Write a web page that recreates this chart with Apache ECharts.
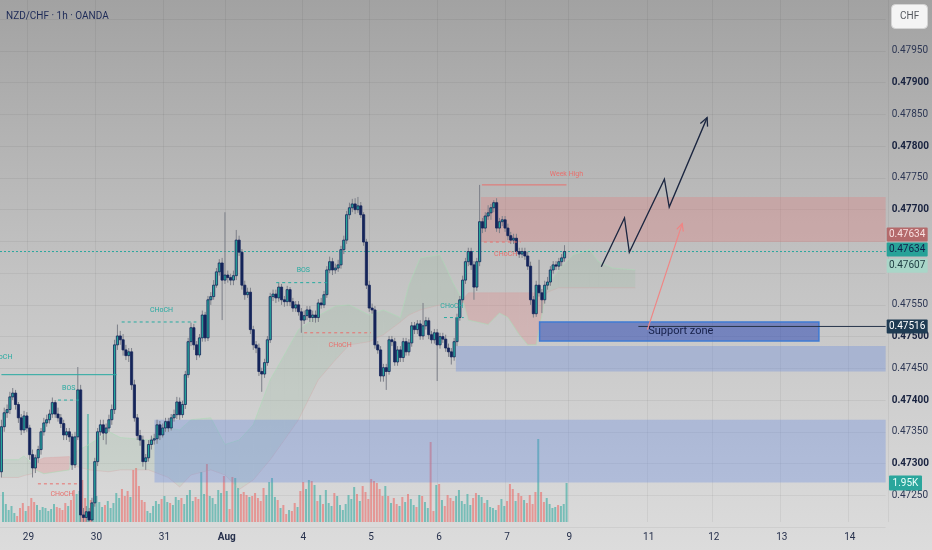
<!DOCTYPE html>
<html><head><meta charset="utf-8">
<script src="https://cdn.jsdelivr.net/npm/echarts@6/dist/echarts.min.js"></script>
<style>
html,body{margin:0;padding:0;width:932px;height:550px;overflow:hidden;}
#c{width:932px;height:550px;background:linear-gradient(180deg,#a2a2a2 0%,#b3b3b3 25%,#c3c3c3 50%,#d0d0d0 75%,#dcdcdc 100%);}
</style></head><body><div id="c"></div>
<script>
// ---------------- DATA (prices in 1e-5 units, i.e. 47634 = 0.47634) ----------------
const SCALE = 100000;
// hourly candles: [open, close, low, high]
const candles = [
[47287,47358,47278,47369],[47358,47380,47350,47388],[47380,47385,47372,47393],[47385,47405,47378,47413],[47405,47411,47400,47419],
[47411,47393,47385,47416],[47393,47372,47364,47397],[47372,47353,47345,47378],[47353,47375,47348,47383],[47375,47356,47350,47381],
[47356,47314,47306,47361],[47314,47293,47278,47322],[47293,47309,47285,47314],[47309,47322,47301,47328],[47322,47350,47314,47356],
[47350,47364,47344,47372],[47364,47369,47358,47377],[47369,47378,47363,47385],[47378,47396,47372,47404],[47396,47378,47372,47400],
[47378,47372,47366,47388],[47372,47363,47356,47378],[47363,47345,47337,47369],[47345,47350,47337,47356],[47350,47342,47334,47356],
[47342,47298,47290,47347],[47298,47342,47293,47350],[47342,47416,47337,47452],[47416,47219,47208,47424],[47219,47215,47208,47230],
[47215,47224,47208,47233],[47224,47211,47208,47230],[47211,47238,47208,47246],[47238,47303,47232,47309],[47303,47350,47296,47356],
[47350,47361,47344,47369],[47361,47348,47337,47369],[47348,47356,47330,47363],[47356,47369,47350,47377],[47369,47385,47361,47393],
[47385,47487,47378,47495],[47487,47501,47479,47519],[47501,47495,47487,47509],[47495,47479,47470,47504],[47479,47470,47463,47487],
[47470,47476,47460,47482],[47476,47424,47416,47482],[47424,47372,47366,47432],[47372,47344,47337,47378],[47344,47337,47328,47353],
[47337,47303,47295,47344],[47303,47309,47290,47315],[47309,47330,47303,47337],[47330,47337,47322,47344],[47337,47339,47330,47347],
[47339,47361,47331,47369],[47361,47345,47337,47367],[47345,47356,47341,47363],[47356,47366,47350,47372],[47366,47356,47350,47372],
[47356,47372,47352,47378],[47372,47377,47366,47385],[47377,47397,47370,47405],[47397,47377,47369,47404],[47377,47393,47372,47399],
[47393,47440,47386,47446],[47440,47492,47435,47498],[47492,47514,47485,47522],[47514,47487,47479,47520],[47487,47471,47463,47493],
[47471,47498,47467,47504],[47498,47534,47492,47541],[47534,47498,47492,47539],[47498,47558,47493,47564],[47558,47563,47550,47570],
[47563,47581,47558,47589],[47581,47602,47577,47608],[47602,47616,47596,47622],[47616,47589,47526,47624],[47589,47597,47583,47696],
[47597,47593,47585,47604],[47593,47589,47581,47599],[47589,47596,47581,47604],[47596,47652,47589,47668],[47652,47633,47627,47659],
[47633,47581,47574,47638],[47581,47566,47558,47588],[47566,47570,47561,47577],[47570,47511,47504,47577],[47511,47487,47479,47517],
[47487,47482,47474,47493],[47482,47445,47438,47489],[47445,47441,47413,47451],[47441,47459,47435,47465],[47459,47495,47454,47501],
[47495,47563,47490,47569],[47563,47567,47556,47574],[47567,47561,47553,47574],[47561,47578,47555,47585],[47578,47558,47550,47583],
[47558,47555,47547,47564],[47555,47574,47548,47580],[47574,47555,47548,47578],[47555,47545,47539,47561],[47545,47550,47539,47556],
[47550,47539,47533,47556],[47539,47526,47506,47545],[47526,47533,47520,47541],[47533,47542,47526,47548],[47542,47530,47523,47548],
[47530,47534,47523,47541],[47534,47530,47522,47541],[47530,47553,47523,47559],[47553,47550,47544,47561],[47550,47566,47545,47572],
[47566,47605,47561,47611],[47605,47618,47600,47626],[47618,47605,47597,47624],[47605,47608,47599,47615],[47608,47613,47602,47621],
[47613,47637,47607,47643],[47637,47652,47630,47659],[47652,47692,47646,47698],[47692,47703,47685,47711],[47703,47709,47696,47717],
[47709,47700,47693,47718],[47700,47706,47695,47720],[47706,47692,47687,47712],[47692,47649,47643,47696],[47649,47581,47575,47654],
[47581,47545,47539,47588],[47545,47542,47536,47552],[47542,47487,47481,47548],[47487,47479,47473,47493],[47479,47438,47429,47485],
[47438,47451,47429,47457],[47451,47445,47416,47457],[47445,47495,47440,47501],[47495,47492,47485,47501],[47492,47460,47454,47498],
[47460,47479,47454,47485],[47479,47467,47460,47485],[47467,47492,47460,47498],[47492,47476,47470,47498],[47476,47490,47470,47496],
[47490,47517,47484,47523],[47517,47511,47504,47523],[47511,47520,47504,47526],[47520,47501,47495,47526],[47501,47517,47495,47553],
[47517,47525,47511,47531],[47525,47503,47496,47530],[47503,47495,47489,47509],[47495,47506,47489,47512],[47506,47487,47430,47512],
[47487,47500,47481,47506],[47500,47496,47490,47506],[47496,47482,47476,47503],[47482,47476,47468,47489],[47476,47468,47456,47482],
[47468,47492,47462,47498],[47492,47530,47485,47536],[47530,47558,47525,47564],[47558,47589,47553,47596],[47589,47618,47583,47624],
[47618,47634,47611,47640],[47634,47613,47605,47640],[47613,47578,47558,47619],[47578,47618,47572,47624],[47618,47681,47611,47739],
[47681,47671,47663,47687],[47671,47690,47665,47696],[47690,47695,47684,47707],[47695,47703,47684,47709],[47703,47711,47696,47715],
[47711,47671,47665,47718],[47671,47681,47663,47687],[47681,47684,47674,47690],[47684,47671,47665,47690],[47671,47659,47652,47678],
[47659,47652,47646,47665],[47652,47655,47646,47662],[47655,47634,47627,47662],[47634,47630,47624,47640],[47630,47634,47624,47640],
[47634,47627,47621,47640],[47627,47611,47605,47634],[47611,47558,47550,47618],[47558,47536,47530,47564],[47536,47581,47531,47588],
[47581,47569,47563,47621],[47569,47558,47537,47575],[47558,47581,47552,47588],[47581,47586,47574,47594],[47586,47605,47580,47611],
[47605,47613,47599,47619],[47613,47611,47605,47619],[47611,47618,47605,47624],[47618,47624,47611,47630],[47624,47634,47618,47644]
];
// volume per candle, thousands
const volumesK = [
1.50,0.90,0.60,0.80,0.45,0.30,0.70,0.95,0.55,0.80,
1.20,1.00,0.85,0.60,0.75,0.70,0.55,0.65,0.90,0.75,
0.70,0.60,0.95,0.80,1.10,1.60,1.40,1.55,2.10,1.20,
5.40,1.10,0.90,1.30,1.00,0.75,0.85,1.05,0.70,0.95,
1.45,1.20,1.65,1.30,1.55,1.25,2.60,2.70,1.80,1.10,
1.00,0.55,0.45,0.80,1.05,0.90,1.15,1.30,1.00,0.95,
0.85,1.25,1.10,1.20,0.90,1.35,1.60,1.05,1.25,1.15,
2.50,1.40,2.90,1.30,1.20,0.90,1.60,1.45,2.30,1.55,
0.65,2.25,2.20,1.70,1.40,1.50,1.35,1.25,1.30,1.45,
1.20,1.05,1.70,1.35,2.00,2.20,1.25,1.10,0.70,0.85,
0.40,0.60,0.55,0.95,0.75,1.55,2.00,1.65,2.10,2.05,
1.85,1.05,1.35,0.90,1.60,0.95,0.80,1.45,1.30,0.85,
0.60,0.90,1.35,1.15,1.75,1.40,1.05,1.80,1.50,1.15,
2.15,2.05,1.95,1.65,1.30,1.80,1.30,0.95,1.20,0.90,
0.80,1.25,1.00,1.40,1.15,0.85,0.75,1.35,1.30,1.00,
0.70,4.00,0.55,1.85,1.90,1.10,0.80,1.35,1.20,1.05,
1.30,1.60,1.05,0.90,1.40,0.85,1.20,1.45,1.35,1.25,
0.95,1.10,0.75,0.70,0.60,0.85,1.15,0.80,1.05,1.90,
1.65,1.05,1.45,1.30,1.10,0.95,1.35,0.90,1.50,4.15,
1.50,1.00,1.20,0.90,0.70,0.75,0.85,0.80,0.90,1.95
];
// time axis: bar index of each day label
const dayTickIndex  = [9,33,57,79,106,130,154,178,200,228,251,275,299];
const dayTickLabels = ['29','30','31','Aug','4','5','6','7','9','11','12','13','14'];
// Ichimoku cloud (bar index, span A, span B)
const cloudIdx = [0,6,8,11,12,15,24,26,31,38,42,52,59,63,67,74,79,84,89,95,100,105,112,118,123,130,135,141,144,148,155,160,163,165,172,176,179,183,186,189,191,193,197,202,208,211,216,224];
const spanA = [47306,47306,47312,47298,47290,47284,47290,47318,47330,47350,47341,47337,47356,47353,47369,47372,47330,47337,47361,47432,47471,47511,47533,47548,47550,47534,47542,47530,47581,47624,47629,47581,47558,47526,47519,47537,47530,47503,47487,47487,47534,47581,47605,47629,47637,47618,47608,47605];
const spanB = [47278,47278,47281,47284,47303,47309,47311,47296,47290,47287,47290,47290,47278,47263,47282,47290,47282,47259,47274,47306,47337,47369,47432,47463,47487,47492,47503,47523,47534,47542,47550,47550,47558,47569,47569,47569,47569,47569,47569,47569,47558,47570,47577,47577,47577,47577,47577,47577];
// zones: [startBar, endBar, topPrice, bottomPrice]
const supplyZone      = [169.4, 312.5, 47720, 47649];
const demandZoneUpper = [160.6, 312.5, 47485, 47445];
const demandZoneLower = [54.1, 312.5, 47369, 47270];
const supportZone     = [190.2, 288.9, 47523, 47493];
const supportLevel    = [225.1, 312.5, 47516];
// market-structure lines: [startBar, endBar, price]
const structLines  = [[0,40.7,47440],[20,27.4,47400],[12.9,27.7,47268],[42.5,68.9,47523],[97.1,115.1,47585],[107,130.6,47506],[156.4,163.4,47530],[170.5,183.5,47649],[169.8,199.7,47739]];
const structSide   = ['bull','bull','bear','bull','bull','bear','bull','bear','bear'];
const structText   = ['CHoCH','BOS','CHoCH','CHoCH','BOS','CHoCH','CHoCH','CHoCH','Week High'];
const structTextAt = [[-0.2,47467],[23.8,47418],[21.4,47251],[56.6,47542],[106.7,47604],[119.7,47487],[159.2,47548],[178.2,47630],[199.7,47756]];
// projected paths
const bullPathBar   = [212.0, 220.2, 221.9, 234.3, 236.0, 249.4];
const bullPathPrice = [47610, 47687, 47633, 47748, 47704, 47845];
const retestBar     = [228.3, 240.6];
const retestPrice   = [47511, 47678];
const supportLabel  = {text:'Support zone', bar:228.6, price:47509};
// right-axis price tags
const tagValues = [47634, 47634, 47607, 47516];
const lastVolumeK = 1.95;
const lastBar = 199;

// ---------------- STYLE / LAYOUT ----------------
const N_SLOTS = 313;
const FONT = 'Roboto, "Noto Sans", sans-serif';
const TEAL = '#25a79d', NAVY = '#15255a';
const P = v => v / SCALE;
const categories = Array.from({length:N_SLOTS}, () => '');
dayTickIndex.forEach((k, j) => { categories[k] = dayTickLabels[j]; });

const ZONE_LIST = [demandZoneLower, demandZoneUpper, supplyZone, supportZone];
const ZONE_FILL = ['rgba(90,130,225,0.30)','rgba(90,130,225,0.30)','rgba(225,120,120,0.30)','rgba(41,70,180,0.53)'];
const TAG_BG = ['#b46a6b','#27a298','#a9d6c8','#1f3b53'];
const TAG_FG = ['#f8e0e0','#10204a','#1d3b40','#ffffff'];
const TAG_SHIFT = [-17,-2,-3,0];
const SOLID_STRUCT = new Set([0, 8]);

function arrowHead(a, b, L, w) {
  const ang = Math.atan2(a[1]-b[1], a[0]-b[0]);
  return [[a[0]-L*Math.cos(ang-w), a[1]-L*Math.sin(ang-w)], a, [a[0]-L*Math.cos(ang+w), a[1]-L*Math.sin(ang+w)]];
}

const chart = echarts.init(document.getElementById('c'), null, {renderer:'canvas'});
const option = {
  backgroundColor: 'transparent',
  animation: false,
  graphic: [
    {type:'text', left:6, top:11, style:{text:'NZD/CHF · 1h · OANDA', font:'10px '+FONT, fill:'#1d2a57'}},
    {type:'rect', left:891, top:4, shape:{width:36, height:24, r:4}, style:{fill:'#f4f4f4', stroke:'#d4d4d4', lineWidth:1}},
    {type:'text', left:900, top:11, style:{text:'CHF', font:'10px '+FONT, fill:'#55595f'}}
  ],
  grid: [
    {left:0, right:44, top:19.25, bottom:23},
    {left:0, right:44, top:0, bottom:28}
  ],
  xAxis: [
    {type:'value', gridIndex:0, min:-0.5, max:N_SLOTS-0.5, show:false},
    {type:'category', gridIndex:1, data:categories, boundaryGap:true,
     axisLine:{show:false}, axisTick:{show:false},
     axisLabel:{interval:0, margin:10, fontSize:10, color:'#26304c', fontFamily:FONT,
       formatter: v => v === 'Aug' ? '{b|Aug}' : v,
       rich:{b:{fontWeight:'bold', fontSize:10, color:'#26304c', fontFamily:FONT}}},
     splitLine:{show:true, interval:(i, v) => v !== '', lineStyle:{color:'rgba(0,0,0,0.05)', width:1}}}
  ],
  yAxis: [
    {type:'value', gridIndex:0, position:'right', min:0.472, max:0.480, interval:0.0005,
     axisLine:{show:false}, axisTick:{show:false},
     splitLine:{show:true, lineStyle:{color:'rgba(0,0,0,0.05)', width:1}},
     axisLabel:{margin:6, showMinLabel:false, showMaxLabel:false,
       formatter: v => {
         const k = Math.round(v*2000);
         if ([944, 952, 953, 960].includes(k)) return '';
         const t = (k/2000).toFixed(5);
         return k % 2 === 0 ? '{b|'+t+'}' : '{n|'+t+'}';
       },
       rich:{b:{fontWeight:'bold', fontSize:10, color:'#18223f', fontFamily:FONT},
             n:{fontSize:10, color:'#2d3754', fontFamily:FONT}}}},
    {type:'value', gridIndex:1, min:0, max:26.1, show:false}
  ],
  series: [
    // volume
    {type:'bar', xAxisIndex:1, yAxisIndex:1, barWidth:2, z:1, silent:true,
     data: volumesK.map((v, i) => ({value:v, itemStyle:{color: candles[i][1] >= candles[i][0] ? 'rgba(38,166,154,0.55)' : 'rgba(239,83,80,0.5)'}}))},
    // ichimoku cloud fill
    {type:'custom', xAxisIndex:0, yAxisIndex:0, z:2, silent:true,
     data: cloudIdx.slice(0, -1).map((_, k) => [k]),
     renderItem: (params, api) => {
       const k = api.value(0);
       const a0 = api.coord([cloudIdx[k], P(spanA[k])]), a1 = api.coord([cloudIdx[k+1], P(spanA[k+1])]);
       const b0 = api.coord([cloudIdx[k], P(spanB[k])]), b1 = api.coord([cloudIdx[k+1], P(spanB[k+1])]);
       const green = (spanA[k] + spanA[k+1]) >= (spanB[k] + spanB[k+1]);
       return {type:'polygon', shape:{points:[a0, a1, b1, b0]},
               style:{fill: green ? 'rgba(100,180,115,0.10)' : 'rgba(235,110,110,0.22)'}};
     }},
    {type:'line', xAxisIndex:0, yAxisIndex:0, z:2, silent:true, symbol:'none',
     data: cloudIdx.map((x, k) => [x, P(spanA[k])]), lineStyle:{color:'rgba(170,220,180,0.55)', width:1}},
    {type:'line', xAxisIndex:0, yAxisIndex:0, z:2, silent:true, symbol:'none',
     data: cloudIdx.map((x, k) => [x, P(spanB[k])]), lineStyle:{color:'rgba(215,160,160,0.3)', width:1}},
    // zones
    {type:'custom', xAxisIndex:0, yAxisIndex:0, z:3, silent:true,
     data: ZONE_LIST.map((_, k) => [k]),
     renderItem: (params, api) => {
       const k = api.value(0), z = ZONE_LIST[k];
       const p1 = api.coord([z[0], P(z[2])]), p2 = api.coord([z[1], P(z[3])]);
       return {type:'rect', shape:{x:p1[0], y:p1[1], width:p2[0]-p1[0], height:p2[1]-p1[1]},
               style:{fill:ZONE_FILL[k], stroke: k === 3 ? '#3f7bd4' : null, lineWidth:1.5}};
     }},
    // levels: last price (dotted) and support level
    {type:'custom', xAxisIndex:0, yAxisIndex:0, z:4, silent:true,
     data: [[0],[1]],
     renderItem: (params, api) => {
       const k = api.value(0);
       if (k === 0) {
         const a = api.coord([-0.5, P(tagValues[1])]), b = api.coord([N_SLOTS-0.5, P(tagValues[1])]);
         return {type:'line', shape:{x1:a[0], y1:a[1], x2:b[0], y2:b[1]}, style:{stroke:'#2aa79e', lineWidth:1, lineDash:[2,2]}};
       }
       const a = api.coord([supportLevel[0], P(supportLevel[2])]), b = api.coord([supportLevel[1], P(supportLevel[2])]);
       return {type:'line', shape:{x1:a[0], y1:a[1], x2:b[0], y2:b[1]}, style:{stroke:'#26344a', lineWidth:1}};
     }},
    // candles
    {type:'custom', xAxisIndex:0, yAxisIndex:0, z:5, silent:true,
     data: candles.map((r, i) => [i, P(r[0]), P(r[1]), P(r[2]), P(r[3])]),
     renderItem: (params, api) => {
       const i = api.value(0), o = api.value(1), c = api.value(2), l = api.value(3), h = api.value(4);
       const po = api.coord([i, o]), pc = api.coord([i, c]), pl = api.coord([i, l]), ph = api.coord([i, h]);
       const x = po[0], up = c >= o, bw = 2.2;
       const top = Math.min(po[1], pc[1]), bh = Math.max(Math.abs(po[1]-pc[1]), 1);
       return {type:'group', children:[
         {type:'line', shape:{x1:x, y1:ph[1], x2:x, y2:pl[1]}, style:{stroke:'#7c7f88', lineWidth:1}},
         {type:'rect', shape:{x:x-bw/2, y:top, width:bw, height:bh},
          style:{fill: up ? TEAL : NAVY, stroke:NAVY, lineWidth:0.8}}
       ]};
     }},
    // structure lines and labels
    {type:'custom', xAxisIndex:0, yAxisIndex:0, z:6, silent:true,
     data: structLines.map((_, k) => [k]),
     renderItem: (params, api) => {
       const k = api.value(0), s = structLines[k];
       const col = structSide[k] === 'bull' ? '#27aaa1' : '#e8706d';
       const a = api.coord([s[0], P(s[2])]), b = api.coord([s[1], P(s[2])]);
       const t = api.coord([structTextAt[k][0], P(structTextAt[k][1])]);
       return {type:'group', children:[
         {type:'line', shape:{x1:a[0], y1:a[1], x2:b[0], y2:b[1]},
          style:{stroke:col, lineWidth:1, lineDash: SOLID_STRUCT.has(k) ? null : [3,3]}},
         {type:'text', style:{x:t[0], y:t[1], text:structText[k], fill:col, font:'7px '+FONT, align:'center', verticalAlign:'middle'}}
       ]};
     }},
    // projected arrows + support label
    {type:'custom', xAxisIndex:0, yAxisIndex:0, z:7, silent:true,
     data: [[0]],
     renderItem: (params, api) => {
       const pts = bullPathBar.map((x, k) => api.coord([x, P(bullPathPrice[k])]));
       const rp = retestBar.map((x, k) => api.coord([x, P(retestPrice[k])]));
       const sl = api.coord([supportLabel.bar, P(supportLabel.price)]);
       return {type:'group', children:[
         {type:'polyline', shape:{points:pts}, style:{stroke:'#1b2640', lineWidth:1.3, fill:null}},
         {type:'polyline', shape:{points:arrowHead(pts[pts.length-1], pts[pts.length-2], 9, 0.45)}, style:{stroke:'#1b2640', lineWidth:1.3, fill:null}},
         {type:'line', shape:{x1:rp[0][0], y1:rp[0][1], x2:rp[1][0], y2:rp[1][1]}, style:{stroke:'#f08584', lineWidth:1.2}},
         {type:'polyline', shape:{points:arrowHead(rp[1], rp[0], 8, 0.45)}, style:{stroke:'#f08584', lineWidth:1.2, fill:null}},
         {type:'text', style:{x:sl[0], y:sl[1], text:supportLabel.text, fill:'#16204a', font:'11px '+FONT, align:'left', verticalAlign:'middle'}}
       ]};
     }},
    // price tags on right axis
    {type:'custom', xAxisIndex:0, yAxisIndex:0, z:20, silent:true, clip:false,
     data: tagValues.map((_, k) => [k]),
     renderItem: (params, api) => {
       const k = api.value(0), cs = params.coordSys;
       const y = api.coord([0, P(tagValues[k])])[1] + TAG_SHIFT[k];
       const x = cs.x + cs.width + 1;
       return {type:'group', children:[
         {type:'rect', shape:{x:x, y:y-7, width:41, height:14, r:1}, style:{fill:TAG_BG[k]}},
         {type:'text', style:{x:x+20.5, y:y, text:P(tagValues[k]).toFixed(5), fill:TAG_FG[k], font:'10px '+FONT, align:'center', verticalAlign:'middle'}}
       ]};
     }},
    {type:'custom', xAxisIndex:1, yAxisIndex:1, z:20, silent:true, clip:false,
     data: [[lastBar, lastVolumeK]],
     renderItem: (params, api) => {
       const cs = params.coordSys;
       const y = api.coord([api.value(0), api.value(1)])[1];
       const x = cs.x + cs.width + 1;
       return {type:'group', children:[
         {type:'rect', shape:{x:x, y:y-7.5, width:33, height:15, r:1}, style:{fill:'#2aa69c'}},
         {type:'text', style:{x:x+16.5, y:y, text:api.value(1).toFixed(2)+'K', fill:'#eafffb', font:'10px '+FONT, align:'center', verticalAlign:'middle'}}
       ]};
     }}
  ]
};
chart.setOption(option);
</script>
</body></html>
